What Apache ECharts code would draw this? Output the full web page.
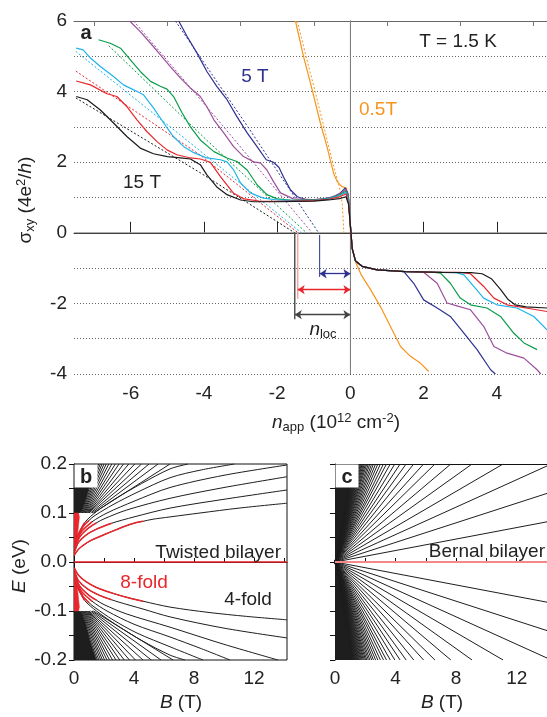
<!DOCTYPE html>
<html>
<head>
<meta charset="utf-8">
<script src="https://cdn.jsdelivr.net/npm/echarts@6/dist/echarts.min.js"></script>
<style>
html, body { margin: 0; padding: 0; background: #fff; }
#chart { width: 547px; height: 717px; }
</style>
</head>
<body>
<div id="chart"></div>
<script>
// ---- panel a : sigma_xy vs n_app, solid = measured, dashed = fits ----
const solidBlack = [[-7.49,3.86],[-7.19,3.77],[-6.83,3.48],[-6.47,3.11],[-6.1,2.72],[-5.74,2.4],[-5.38,2.24],[-5.0,2.16],[-4.64,2.12],[-4.37,2.09],[-4.1,1.93],[-3.92,1.64],[-3.65,1.3],[-3.37,1.08],[-3.0,0.93],[-2.64,0.88],[-2.0,0.88],[-1.5,0.89],[-1.0,0.9],[-0.6,0.93],[-0.3,0.97],[-0.12,1.02],[-0.05,0.8],[0.0,0.2],[0.05,-0.45],[0.14,-0.8],[0.32,-0.95],[0.73,-1.05],[1.5,-1.1],[2.5,-1.12],[3.3,-1.13],[3.6,-1.16],[3.85,-1.3],[4.1,-1.6],[4.3,-1.88],[4.5,-2.04],[4.8,-2.1],[5.37,-2.13]];
const solidRed = [[-7.49,4.3],[-7.1,4.19],[-6.65,3.94],[-6.38,3.86],[-6.1,3.57],[-5.83,3.2],[-5.56,2.87],[-5.29,2.59],[-5.01,2.35],[-4.74,2.21],[-4.37,2.12],[-4.1,2.09],[-3.83,2.0],[-3.55,1.59],[-3.19,1.12],[-2.9,0.96],[-2.5,0.9],[-2.0,0.89],[-1.5,0.9],[-1.0,0.91],[-0.6,0.95],[-0.3,1.02],[-0.12,1.1],[-0.05,0.85],[0.0,0.2],[0.05,-0.45],[0.14,-0.8],[0.32,-0.95],[0.73,-1.05],[1.5,-1.1],[2.5,-1.12],[3.0,-1.12],[3.28,-1.16],[3.64,-1.52],[3.92,-1.85],[4.28,-2.04],[4.8,-2.13],[5.37,-2.23]];
const solidCyan = [[-7.49,5.23],[-7.3,5.18],[-7.1,4.95],[-6.83,4.71],[-6.47,4.43],[-6.2,4.19],[-5.92,4.05],[-5.65,3.91],[-5.38,3.54],[-5.1,3.11],[-4.83,2.72],[-4.55,2.44],[-4.28,2.27],[-3.92,2.12],[-3.55,2.07],[-3.37,2.01],[-3.19,1.78],[-3.0,1.41],[-2.73,1.13],[-2.37,0.98],[-2.0,0.93],[-1.5,0.91],[-1.0,0.92],[-0.6,0.96],[-0.3,1.05],[-0.12,1.14],[-0.05,0.9],[0.0,0.2],[0.05,-0.45],[0.14,-0.8],[0.32,-0.95],[0.73,-1.05],[1.5,-1.1],[2.5,-1.12],[2.9,-1.13],[3.1,-1.19],[3.37,-1.52],[3.64,-1.85],[4.0,-2.04],[4.55,-2.13],[5.01,-2.37],[5.37,-2.75]];
const solidGreen = [[-6.88,5.47],[-6.56,5.37],[-6.28,5.23],[-6.01,4.9],[-5.74,4.57],[-5.46,4.29],[-5.19,4.15],[-5.01,4.07],[-4.83,3.86],[-4.6,3.4],[-4.37,3.0],[-4.1,2.63],[-3.73,2.3],[-3.37,2.12],[-3.1,2.02],[-2.82,1.78],[-2.55,1.36],[-2.28,1.08],[-2.0,0.96],[-1.6,0.92],[-1.0,0.93],[-0.6,0.97],[-0.3,1.07],[-0.12,1.18],[-0.05,0.95],[0.0,0.2],[0.05,-0.45],[0.14,-0.8],[0.32,-0.95],[0.73,-1.05],[1.5,-1.1],[2.2,-1.11],[2.46,-1.14],[2.73,-1.43],[3.0,-1.85],[3.28,-2.04],[3.73,-2.13],[4.1,-2.37],[4.46,-2.84],[4.74,-3.12],[5.1,-3.31]];
const solidPurple = [[-6.03,6.0],[-5.74,5.7],[-5.46,5.37],[-5.19,5.04],[-4.92,4.71],[-4.64,4.38],[-4.37,4.1],[-4.1,3.86],[-3.92,3.57],[-3.73,3.2],[-3.46,2.83],[-3.19,2.44],[-2.92,2.16],[-2.64,2.01],[-2.46,1.98],[-2.28,1.78],[-2.1,1.45],[-1.91,1.13],[-1.56,0.96],[-1.0,0.94],[-0.6,0.98],[-0.3,1.1],[-0.12,1.22],[-0.05,1.0],[0.0,0.2],[0.05,-0.45],[0.14,-0.8],[0.32,-0.95],[0.73,-1.05],[1.5,-1.1],[2.0,-1.12],[2.37,-1.43],[2.64,-1.99],[2.91,-2.07],[3.28,-2.18],[3.64,-2.65],[3.92,-3.22],[4.28,-3.41],[4.74,-3.55],[5.1,-3.88],[5.2,-4.0]];
const solidNavy = [[-4.69,6.0],[-4.46,5.56],[-4.19,5.09],[-3.92,4.57],[-3.65,4.15],[-3.37,3.77],[-3.1,3.29],[-2.82,2.83],[-2.55,2.44],[-2.3,2.07],[-2.1,2.0],[-1.95,1.85],[-1.83,1.59],[-1.64,1.22],[-1.45,1.02],[-1.18,0.93],[-0.8,0.95],[-0.46,1.02],[-0.27,1.13],[-0.14,1.27],[-0.06,1.1],[0.0,0.2],[0.05,-0.45],[0.14,-0.8],[0.32,-0.95],[0.73,-1.05],[1.2,-1.08],[1.46,-1.1],[1.73,-1.43],[2.0,-1.9],[2.37,-2.13],[2.73,-2.37],[3.1,-2.84],[3.46,-3.31],[3.83,-3.88],[3.96,-4.0]];
const solidOrange = [[-1.5,6.0],[-1.28,4.99],[-1.09,4.24],[-0.82,3.11],[-0.64,2.44],[-0.46,1.69],[-0.36,1.45],[-0.23,1.31],[-0.11,1.27],[-0.05,0.93],[0.0,0.1],[0.06,-0.5],[0.15,-0.85],[0.3,-1.2],[0.55,-1.61],[0.82,-2.09],[1.09,-2.65],[1.37,-3.22],[1.64,-3.5],[1.91,-3.69],[2.14,-3.93]];

const dashBlack = [[-7.5,3.82],[-4.1,1.7],[-1.52,0]];
const dashRed = [[-7.5,4.58],[-4.1,2.2],[-1.43,0]];
const dashCyan = [[-7.5,5.14],[-4.2,2.4],[-1.34,0]];
const dashGreen = [[-6.6,5.3],[-3.9,2.6],[-1.2,0]];
const dashPurple = [[-5.92,6.0],[-3.5,3.05],[-1.05,0]];
const dashNavy = [[-4.78,6.0],[-2.8,3.0],[-0.87,0]];
const dashOrange = [[-1.45,6.0],[-1.2,4.95],[-0.95,3.95],[-0.7,2.9],[-0.45,1.85],[-0.3,1.3],[-0.22,0.8],[-0.18,0.0]];

// n_loc markers: [x, yTop, yBottom] and arrows [xFrom, xTo, y]
const locMarkBlack = [-1.52, 0, -2.45];
const locMarkRed = [-1.44, 0, -1.87];
const locMarkNavy = [-0.84, -0.06, -1.25];
const locArrowBlack = [-1.52, 0, -2.32];
const locArrowRed = [-1.44, 0, -1.61];
const locArrowNavy = [-0.84, 0, -1.16];

const aTicksMajor = [-6, -4, -2, 0, 2, 4];
const aTicksMinor = [-7, -5, -3, -1, 1, 3, 5];

// ---- panel b : twisted bilayer Landau levels ----
const twUpperCurves = [
  [[0.02,0.014],[0.3,0.026],[0.7,0.036],[1.2,0.045],[1.8,0.053],[2.5,0.062],[3.3,0.072],[4.1,0.08],[4.6,0.083],[5.2,0.087],[6.4,0.092],[8.4,0.1],[11,0.11],[14.2,0.12]],
  [[0.05,0.022],[0.3,0.04],[0.8,0.055],[1.5,0.067],[2.5,0.079],[4,0.092],[6.4,0.11],[10,0.128],[14.2,0.147]],
  [[0.08,0.03],[0.4,0.052],[1.0,0.07],[1.5,0.08],[2.0,0.088],[3.5,0.106],[6.4,0.13],[10,0.152],[14.2,0.174]],
  [[0.1,0.038],[0.5,0.062],[1.2,0.082],[2.2,0.1],[4,0.124],[6.4,0.152],[10,0.177],[14.2,0.198]],
  [[0.15,0.045],[0.6,0.072],[1.0,0.085],[1.4,0.095],[2.6,0.117],[4.2,0.142],[6.4,0.172],[8.5,0.188],[10.7,0.2]],
  [[0.2,0.052],[0.7,0.08],[1.5,0.103],[2.8,0.13],[4.5,0.16],[6.4,0.19],[7.6,0.2]]
];
const twLowerCurves = [
  [[0.02,-0.012],[0.3,-0.027],[0.8,-0.04],[1.5,-0.052],[2.5,-0.063],[3.5,-0.072],[4.6,-0.08],[6.4,-0.092],[9,-0.103],[11.5,-0.111],[14.2,-0.118]],
  [[0.05,-0.02],[0.3,-0.038],[0.9,-0.055],[1.7,-0.068],[2.5,-0.077],[3,-0.082],[4.6,-0.096],[6.4,-0.112],[10,-0.135],[14.2,-0.155]],
  [[0.08,-0.028],[0.4,-0.05],[1.0,-0.068],[1.5,-0.078],[2.0,-0.087],[3.5,-0.106],[6.4,-0.133],[10,-0.168],[13.6,-0.2]],
  [[0.1,-0.036],[0.5,-0.06],[1.2,-0.08],[2.2,-0.1],[4,-0.127],[6.4,-0.153],[8.5,-0.177],[10.4,-0.2]],
  [[0.15,-0.043],[0.6,-0.07],[1.0,-0.083],[1.4,-0.093],[2.6,-0.118],[4.2,-0.145],[6.4,-0.173],[8.6,-0.2]],
  [[0.2,-0.05],[0.7,-0.078],[1.5,-0.1],[2.8,-0.128],[4.5,-0.16],[6.4,-0.19],[7.4,-0.2]]
];
const twRedUntil = [4.6, 2.5, 1.5, 1.2, 1.0, 0.7];
// straight levels above the band edge: [start B at |E|=0.1, exit B at |E|=0.2]
const twUpperLines = [[1.3,6.4],[1.2,5.6],[1.1,5.0],[1.0,4.5],[0.95,4.05],[0.9,3.65],[0.85,3.3],[0.8,3.0],[0.75,2.75],[0.7,2.52],[0.65,2.32],[0.6,2.15],[0.55,2.0],[0.5,1.87],[0.45,1.75],[0.4,1.64],[0.35,1.54]];
const twLowerLines = [[1.3,6.6],[1.2,5.8],[1.1,5.15],[1.0,4.6],[0.95,4.1],[0.9,3.7],[0.85,3.35],[0.8,3.05],[0.75,2.8],[0.7,2.57],[0.65,2.37],[0.6,2.2],[0.55,2.04],[0.5,1.9],[0.45,1.78],[0.4,1.66],[0.35,1.56]];
const twDenseUpper = [[0,0.1],[0,0.2],[1.5,0.2],[1.05,0.16],[0.75,0.125],[0.5,0.105],[0.3,0.1]];
const twDenseLower = [[0,-0.1],[0,-0.2],[1.5,-0.2],[1.05,-0.16],[0.75,-0.125],[0.5,-0.105],[0.3,-0.1]];
const twRedUpper = [[0,0.012],[0,0.1],[0.3,0.1],[0.36,0.092],[0.26,0.062],[0.13,0.036],[0.04,0.016]];
const twRedLower = [[0,-0.012],[0,-0.1],[0.3,-0.1],[0.36,-0.092],[0.26,-0.062],[0.13,-0.036],[0.04,-0.016]];

// ---- panel c : Bernal bilayer, straight levels from the origin ----
const bernalRightE = [0.082, 0.14, 0.196];
const bernalTopB = [11.1,9.05,7.65,6.6,5.85,5.2,4.7,4.3,3.95,3.65,3.4,3.2,3.0,2.83,2.68,2.54,2.42,2.3,2.2,2.1,2.02,1.94,1.87,1.8,1.74,1.68,1.62,1.57,1.52,1.48,1.43,1.39,1.35,1.31,1.28,1.24,1.21,1.18,1.15,1.12];
const bernalDense = [[0,0],[0,0.2],[1.15,0.2],[0.05,0.0]];

const eTicks = [-0.2,-0.15,-0.1,-0.05,0,0.05,0.1,0.15,0.2];
const eLabels = [-0.2,-0.1,0,0.1,0.2];
const bTicks = [2,4,6,8,10,12,14];
const bLabels = [0,4,8,12];

const FONT = 'Liberation Sans, Arial, sans-serif';
const C = { black:'#1a1a1a', red:'#e8262b', cyan:'#1fb3ea', green:'#0b9d4a', purple:'#9c4f9c', navy:'#2e3192', orange:'#f7941d' };

const myChart = echarts.init(document.getElementById('chart'));

function ln(data, color, width, xi, yi, type, z) {
  return {
    type: 'line', data: data, xAxisIndex: xi, yAxisIndex: yi,
    showSymbol: false, symbol: 'none', silent: true, animation: false, z: z || 2,
    lineStyle: { color: color, width: width, type: type || 'solid' }
  };
}
function poly(points, color, xi, yi) {
  return {
    type: 'custom', xAxisIndex: xi, yAxisIndex: yi, silent: true, animation: false, clip: true,
    data: [points[1]], z: 1,
    renderItem: function (params, api) {
      return { type: 'polygon', shape: { points: points.map(p => api.coord(p)) }, style: { fill: color, stroke: color, lineWidth: 0.5 } };
    }
  };
}

const series = [];
// panel a zero lines
series.push(ln([[0,-4],[0,6]], '#8c8c8c', 1, 0, 0, 'solid', 1));
series.push(ln([[-7.55,0],[5.37,0]], '#8c8c8c', 1, 0, 0, 'solid', 1));
// dashed fits
[[dashBlack,C.black],[dashRed,C.red],[dashCyan,C.cyan],[dashGreen,C.green],[dashPurple,C.purple],[dashNavy,C.navy],[dashOrange,C.orange]]
  .forEach(d => series.push(ln(d[0], d[1], 1, 0, 0, [2, 2], 2)));
// measured
[[solidOrange,C.orange],[solidNavy,C.navy],[solidPurple,C.purple],[solidGreen,C.green],[solidCyan,C.cyan],[solidRed,C.red],[solidBlack,C.black]]
  .forEach(d => series.push(ln(d[0], d[1], 1.2, 0, 0, 'solid', 3)));
// n_loc markers
series.push(ln([[locMarkBlack[0],locMarkBlack[1]],[locMarkBlack[0],locMarkBlack[2]]], '#555', 1.5, 0, 0));
series.push(ln([[locMarkRed[0],locMarkRed[1]],[locMarkRed[0],locMarkRed[2]]], '#f4a3a3', 1.5, 0, 0));
series.push(ln([[locMarkNavy[0],locMarkNavy[1]],[locMarkNavy[0],locMarkNavy[2]]], C.navy, 1, 0, 0));
function arrow(a, color) {
  return [{ coord: [a[0], a[2]], lineStyle: { color: color, width: 1.3, type: 'solid' } }, { coord: [a[1], a[2]] }];
}
series.push({
  type: 'line', data: [], xAxisIndex: 0, yAxisIndex: 0, silent: true, animation: false,
  markLine: {
    silent: true, animation: false, symbol: ['arrow', 'arrow'], symbolSize: 7,
    label: { show: false },
    data: [arrow(locArrowBlack, '#444'), arrow(locArrowRed, C.red), arrow(locArrowNavy, C.navy)]
  }
});

// panel b
series.push(poly(twDenseUpper, '#1e1e1e', 3, 1));
series.push(poly(twDenseLower, '#1e1e1e', 3, 1));
twUpperLines.forEach(l => series.push(ln([[l[0],0.1],[l[1],0.2]], '#1e1e1e', 1, 3, 1)));
twLowerLines.forEach(l => series.push(ln([[l[0],-0.1],[l[1],-0.2]], '#1e1e1e', 1, 3, 1)));
twUpperCurves.concat(twLowerCurves).forEach(c => {
  const s = ln(c, '#1e1e1e', 1, 3, 1); s.smooth = 0.3; series.push(s);
});
series.push(poly(twRedUpper, C.red, 3, 1));
series.push(poly(twRedLower, C.red, 3, 1));
[twUpperCurves, twLowerCurves].forEach(group => group.forEach((c, k) => {
  const part = c.filter(p => p[0] <= twRedUntil[k]);
  const s = ln(part, C.red, 1.5, 3, 1, 'solid', 4); s.smooth = 0.3; series.push(s);
}));
series.push(ln([[0,0],[14.2,0]], '#e31e24', 1.6, 3, 1, 'solid', 4));

// panel c
series.push(poly(bernalDense, '#1e1e1e', 4, 2));
series.push(poly(bernalDense.map(p => [p[0], -p[1]]), '#1e1e1e', 4, 2));
bernalTopB.forEach(b => {
  series.push(ln([[0,0],[b,0.2]], '#1e1e1e', 1, 4, 2));
  series.push(ln([[0,0],[b,-0.2]], '#1e1e1e', 1, 4, 2));
});
bernalRightE.forEach(e => {
  series.push(ln([[0,0],[14,e]], '#1e1e1e', 1, 4, 2));
  series.push(ln([[0,0],[14,-e]], '#1e1e1e', 1, 4, 2));
});
series.push(ln([[0,0],[14,0]], '#f28a8a', 2, 4, 2, 'solid', 4));

const axisLbl = { fontFamily: FONT, fontSize: 19, color: '#222' };
const rich = {
  n: { fontFamily: FONT, fontSize: 19, color: '#222' },
  i: { fontFamily: FONT, fontSize: 19, fontStyle: 'italic', color: '#222' },
  sub: { fontFamily: FONT, fontSize: 13, color: '#222', padding: [8, 0, 0, 0] },
  sup: { fontFamily: FONT, fontSize: 13, color: '#222', padding: [0, 0, 10, 0] }
};
function txt(x, y, text, opts) {
  const o = opts || {};
  return {
    type: 'text', x: x, y: y, z: 100, rotation: o.rot || 0,
    style: {
      text: text, rich: rich, fill: o.color || '#222',
      font: (o.bold ? 'bold ' : '') + (o.size || 19) + 'px ' + FONT,
      align: o.align || 'center', verticalAlign: 'middle',
      textAlign: o.align || 'center', textVerticalAlign: 'middle'
    }
  };
}

const option = {
  backgroundColor: '#fff',
  animation: false,
  grid: [
    { left: 74, top: 21, width: 473, height: 353 },
    { left: 74, top: 464, width: 213, height: 196, show: true, borderColor: '#111', borderWidth: 1, backgroundColor: 'transparent' },
    { left: 335, top: 464, width: 212, height: 196 }
  ],
  xAxis: [
    { gridIndex: 0, type: 'value', min: -7.55, max: 5.37,
      axisLine: { lineStyle: { color: '#222', width: 1 } },
      axisTick: { inside: true, length: 11, customValues: aTicksMajor, lineStyle: { color: '#222' } },
      axisLabel: { customValues: aTicksMajor, margin: 10, ...axisLbl },
      splitLine: { show: false } },
    { gridIndex: 0, type: 'value', min: -7.55, max: 5.37,
      axisLine: { show: false },
      axisTick: { inside: true, length: 5, customValues: aTicksMinor, lineStyle: { color: '#777' } },
      axisLabel: { show: false }, splitLine: { show: false } },
    { gridIndex: 0, type: 'value', min: -7.55, max: 5.37, position: 'top',
      axisLine: { lineStyle: { color: '#666', width: 1 } },
      axisTick: { show: false }, axisLabel: { show: false }, splitLine: { show: false } },
    { gridIndex: 1, type: 'value', min: 0, max: 14.2,
      axisLine: { lineStyle: { color: '#111' } },
      axisTick: { inside: true, length: 4, customValues: bTicks, lineStyle: { color: '#111' } },
      axisLabel: { customValues: bLabels, margin: 9, ...axisLbl },
      splitLine: { show: false } },
    { gridIndex: 2, type: 'value', min: 0, max: 14,
      axisLine: { lineStyle: { color: '#111' } },
      axisTick: { inside: true, length: 4, customValues: bTicks, lineStyle: { color: '#111' } },
      axisLabel: { customValues: bLabels, margin: 9, ...axisLbl },
      splitLine: { show: false } },
    { gridIndex: 2, type: 'value', min: 0, max: 14, position: 'top',
      axisLine: { lineStyle: { color: '#111' } },
      axisTick: { show: false }, axisLabel: { show: false }, splitLine: { show: false } }
  ],
  yAxis: [
    { gridIndex: 0, type: 'value', min: -4, max: 6, interval: 1,
      axisLine: { show: true, lineStyle: { color: '#222' } },
      axisTick: { show: false },
      axisLabel: { margin: 7, ...axisLbl, formatter: v => (v % 2 === 0 ? String(v) : '') },
      splitLine: { show: true, lineStyle: { color: '#666', type: [1, 2], width: 1 } } },
    { gridIndex: 1, type: 'value', min: -0.2, max: 0.2,
      axisLine: { show: true, lineStyle: { color: '#111' } },
      axisTick: { inside: false, length: 5, customValues: eTicks, lineStyle: { color: '#111' } },
      axisLabel: { customValues: eLabels, margin: 7, ...axisLbl, formatter: v => v.toFixed(1) },
      splitLine: { show: false } },
    { gridIndex: 2, type: 'value', min: -0.2, max: 0.2,
      axisLine: { show: true, lineStyle: { color: '#111' } },
      axisTick: { inside: false, length: 5, customValues: eTicks, lineStyle: { color: '#111' } },
      axisLabel: { show: false },
      splitLine: { show: false } }
  ],
  graphic: [
    txt(86, 33, 'a', { bold: true, size: 20 }),
    txt(458, 42, 'T = 1.5 K'),
    txt(255, 77, '5 T', { color: C.navy }),
    txt(142, 183, '15 T'),
    txt(359, 110, '0.5T', { color: C.orange, align: 'left' }),
    txt(323, 330, '{i|n}{sub|loc}'),
    txt(336, 423, '{i|n}{sub|app}{n| (10}{sup|12}{n| cm}{sup|-2}{n|)}'),
    txt(26, 200, '{n|σ}{sub|xy}{n| (4e}{sup|2}{n|/}{i|h}{n|)}', { rot: Math.PI / 2 }),
    { type: 'rect', z: 99, shape: { x: 74.5, y: 464.5, width: 23, height: 23 }, style: { fill: '#fff' } },
    txt(86, 477, 'b', { bold: true, size: 20 }),
    { type: 'rect', z: 99, shape: { x: 335.5, y: 464.5, width: 23, height: 23 }, style: { fill: '#fff' } },
    txt(347, 477, 'c', { bold: true, size: 20 }),
    txt(281, 553, 'Twisted bilayer', { align: 'right' }),
    txt(144, 583, '8-fold', { color: C.red }),
    txt(248, 600, '4-fold'),
    txt(545, 552, 'Bernal bilayer', { align: 'right' }),
    txt(20, 566, '{i|E}{n| (eV)}', { rot: Math.PI / 2 }),
    txt(181, 703, '{i|B}{n| (T)}'),
    txt(442, 703, '{i|B}{n| (T)}')
  ],
  series: series
};

myChart.setOption(option);
</script>
</body>
</html>
